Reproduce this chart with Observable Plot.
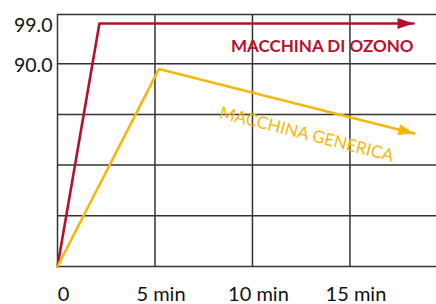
<!DOCTYPE html>
<html><head><meta charset="utf-8">
<script src="https://cdn.jsdelivr.net/npm/d3@7"></script>
<script src="https://cdn.jsdelivr.net/npm/@observablehq/plot@0.6"></script>
<style>html,body{margin:0;padding:0;background:#fff}</style>
</head><body><div id="chart"></div>
<script>
// ---- data ----
const ozoneMinutes = [0, 2.15, 18.26];
const ozoneLevel = [44.7, 99.0, 99.0];
const genericMinutes = [0, 5.2, 18.3];
const genericLevel = [44.7, 88.8, 74.4];
const xTicks = [0, 5, 10, 15];
const xTickLabels = ["0", "5 min", "10 min", "15 min"];
const yTicks = [99.0, 90.0];
const yTickLabels = ["99.0", "90.0"];
const seriesNames = ["MACCHINA DI OZONO", "MACCHINA GENERICA"];

// ---- layout ----
const W = 436, H = 304, mL = 57, mR = 0, mT = 14, mB = 38;
const xDomain = [0, 19.44], yDomain = [44.7, 101];
const RED = "#b5112d", YEL = "#f5b80a", GRID = "#333";
const kx = (W - mL - mR) / (xDomain[1] - xDomain[0]);
const ky = (H - mT - mB) / (yDomain[1] - yDomain[0]);
const angleOf = (xs, ys) => {
  const n = xs.length;
  return Math.atan2(-(ys[n-1] - ys[n-2]) * ky, (xs[n-1] - xs[n-2]) * kx) * 180 / Math.PI;
};

const ozone = ozoneMinutes.map((m, i) => ({m, v: ozoneLevel[i]}));
const generic = genericMinutes.map((m, i) => ({m, v: genericLevel[i]}));
const heads = [
  {m: ozoneMinutes.at(-1), v: ozoneLevel.at(-1), c: RED, a: angleOf(ozoneMinutes, ozoneLevel)},
  {m: genericMinutes.at(-1), v: genericLevel.at(-1), c: YEL, a: angleOf(genericMinutes, genericLevel)}
];
const gridY = d3.range(5).map(i => yTicks[1] - i * (yTicks[1] - yDomain[0]) / 4).concat([yDomain[1]]);
const arrowHead = {draw(ctx) { ctx.moveTo(0, 0); ctx.lineTo(-16, -5.5); ctx.lineTo(-16, 5.5); ctx.closePath(); }};

const genMid = {m: (genericMinutes[1] + genericMinutes[2]) / 2, v: (genericLevel[1] + genericLevel[2]) / 2};

const chart = Plot.plot({
  width: W, height: H,
  marginLeft: mL, marginRight: mR, marginTop: mT, marginBottom: mB,
  style: {fontFamily: "Lato, sans-serif", background: "#fff", color: "#111"},
  x: {domain: xDomain, axis: null},
  y: {domain: yDomain, axis: null},
  marks: [
    Plot.ruleY(gridY, {stroke: GRID, strokeWidth: 1.5}),
    Plot.ruleX(xTicks, {stroke: GRID, strokeWidth: 1.5}),
    Plot.line(ozone, {x: "m", y: "v", stroke: RED, strokeWidth: 2.6}),
    Plot.line(generic, {x: "m", y: "v", stroke: YEL, strokeWidth: 2.6}),
    Plot.dot(heads, {x: "m", y: "v", fill: "c", stroke: null, symbol: arrowHead, rotate: "a", r: 5}),
    Plot.text([ozone.at(-1)], {x: "m", y: "v", text: [seriesNames[0]], textAnchor: "end", dy: 23, fill: RED, fontWeight: "bold", fontSize: 17}),
    Plot.text([genMid], {x: "m", y: "v", text: [seriesNames[1]], rotate: heads[1].a, dx: 20, dy: 33, fill: YEL, fontSize: 17}),
    Plot.text(xTicks, {x: d => d, frameAnchor: "bottom", text: (d, i) => xTickLabels[i], dy: 34, dx: 6, fontSize: 20, fill: "#111"}),
    Plot.text(yTicks, {y: d => d, frameAnchor: "left", text: (d, i) => yTickLabels[i], textAnchor: "end", dx: -5, dy: 2, fontSize: 19.5, fill: "#111"})
  ]
});
document.getElementById("chart").appendChild(chart);
</script>
</body></html>
